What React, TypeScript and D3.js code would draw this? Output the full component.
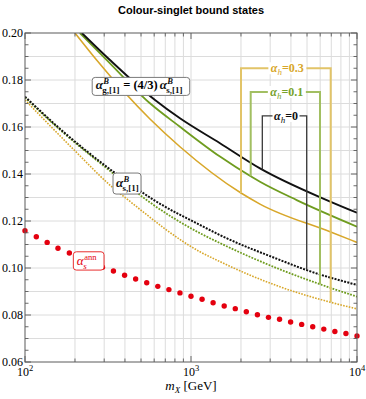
import React, { useEffect, useRef } from 'react';
import * as d3 from 'd3';

const title = 'Colour-singlet bound states';
const yTicks = [0.06, 0.08, 0.1, 0.12, 0.14, 0.16, 0.18, 0.2];
const xTicks = [100, 1000, 10000];
const xTickExponents = ['2', '3', '4'];

// alpha_s^ann (red points)
const annMass = [
  100, 117, 136, 158, 185, 215, 251, 293, 341, 398, 464, 541, 631, 736, 858, 1000, 1166, 1359, 1585, 1848, 2154,
  2512, 2929, 3415, 3981, 4642, 5412, 6310, 7356, 8577, 10000,
];
const annAlpha = [
  0.1159, 0.1133, 0.1109, 0.1084, 0.1064, 0.1043, 0.1022, 0.1003, 0.0987, 0.0969, 0.0953, 0.0937, 0.0922, 0.0908,
  0.0894, 0.088, 0.0867, 0.0852, 0.0838, 0.0827, 0.0814, 0.0801, 0.079, 0.0782, 0.077, 0.076, 0.075, 0.074, 0.073,
  0.0721, 0.0711,
];

// alpha_g,[1]^B = (4/3) alpha_s,[1]^B  (solid)
const solidBlackMass = [220, 325, 607, 858, 1495, 2604, 6569, 10000];
const solidBlack = [0.2, 0.1885, 0.1715, 0.1637, 0.1531, 0.1424, 0.1289, 0.1235];
const solidGreenMass = [214, 311, 566, 858, 1495, 2289, 2604, 4332, 10000];
const solidGreen = [0.2, 0.1885, 0.1701, 0.1601, 0.1474, 0.139, 0.1367, 0.1289, 0.1176];
const solidGoldMass = [200, 270, 566, 858, 2001, 2604, 6943, 10000];
const solidGold = [0.2, 0.1885, 0.1634, 0.1516, 0.1319, 0.1272, 0.1153, 0.1109];

// alpha_s,[1]^B  (dotted)
const dotBlackMass = [100, 162, 340, 621, 1133, 1495, 3437, 4977, 10000];
const dotBlack = [0.1729, 0.1593, 0.141, 0.1282, 0.1183, 0.114, 0.1034, 0.0991, 0.0928];
const dotGreenMass = [100, 162, 340, 541, 1133, 1495, 3437, 5985, 10000];
const dotGreen = [0.1726, 0.1589, 0.1402, 0.1289, 0.1148, 0.1106, 0.0994, 0.0931, 0.0878];
const dotGoldMass = [100, 203, 333, 419, 1133, 1495, 3437, 6943, 10000];
const dotGold = [0.1715, 0.1494, 0.1346, 0.1289, 0.1069, 0.1027, 0.092, 0.0854, 0.0826];

// alpha_h brackets
const bracketLabels = ['0.3', '0.1', '0'];
const bracketTop = [0.185, 0.1749, 0.1647];
const bracketLeftMass = [2001, 2289, 2689];
const bracketRightMass = [6943, 5985, 4977];

const BLACK = '#111111';
const GREEN = '#6f9c1f';
const GOLD = '#d8a72a';
const RED = '#e4000f';
const SERIF = '"Liberation Serif", "DejaVu Serif", serif';

const W = 366;
const H = 399;
const margin = { left: 25, right: 9, top: 33, bottom: 37 };

const valueAt = (ms: number[], vs: number[], m: number) => {
  const lm = Math.log(m);
  for (let i = 0; i < ms.length - 1; i++) {
    const a = Math.log(ms[i]);
    const b = Math.log(ms[i + 1]);
    if (lm >= a && lm <= b) return vs[i] + ((vs[i + 1] - vs[i]) * (lm - a)) / (b - a);
  }
  return vs[vs.length - 1];
};

const draw = (element: SVGSVGElement) => {
  const svg = d3.select(element);
  svg.selectAll('*').remove();

  const x = d3.scaleLog().domain([100, 10000]).range([margin.left, W - margin.right]);
  const y = d3.scaleLinear().domain([0.06, 0.2]).range([H - margin.bottom, margin.top]);
  const [x0, x1] = x.range();
  const [y0, y1] = y.range();

  // title
  svg
    .append('text')
    .attr('x', 191)
    .attr('y', 14)
    .attr('text-anchor', 'middle')
    .attr('font-family', '"Liberation Sans", Arial, sans-serif')
    .attr('font-weight', 'bold')
    .attr('font-size', 11)
    .text(title);

  // grid
  const minorMass: number[] = [];
  [100, 1000].forEach((d) => d3.range(1, 10).forEach((k) => minorMass.push(k * d)));
  minorMass.push(10000);
  const alphaMinor = d3.range(0, 29).map((i) => 0.06 + i * 0.005);
  const grid = svg.append('g').attr('stroke', '#dcdcdc').attr('stroke-width', 1);
  minorMass
    .filter((m) => m > 100 && m < 10000)
    .forEach((m) => grid.append('line').attr('x1', x(m)).attr('x2', x(m)).attr('y1', y1).attr('y2', y0));
  alphaMinor
    .filter((_, i) => i % 2 === 0 && i > 0 && i < 28)
    .forEach((v) => grid.append('line').attr('x1', x0).attr('x2', x1).attr('y1', y(v)).attr('y2', y(v)));

  // curves
  svg
    .append('defs')
    .append('clipPath')
    .attr('id', 'plotClip')
    .append('rect')
    .attr('x', x0)
    .attr('y', y1)
    .attr('width', x1 - x0)
    .attr('height', y0 - y1);
  const line = d3
    .line<[number, number]>()
    .x((d) => x(d[0]))
    .y((d) => y(d[1]))
    .curve(d3.curveMonotoneX);
  const curves = svg.append('g').attr('clip-path', 'url(#plotClip)').attr('fill', 'none');
  const series = [
    { ms: dotGoldMass, vs: dotGold, c: GOLD, w: 1.6, dash: '1.6,1.3' },
    { ms: dotGreenMass, vs: dotGreen, c: GREEN, w: 1.8, dash: '1.8,1.3' },
    { ms: dotBlackMass, vs: dotBlack, c: BLACK, w: 2, dash: '2,1.3' },
    { ms: solidGoldMass, vs: solidGold, c: GOLD, w: 1.6, dash: null },
    { ms: solidGreenMass, vs: solidGreen, c: GREEN, w: 1.8, dash: null },
    { ms: solidBlackMass, vs: solidBlack, c: BLACK, w: 1.9, dash: null },
  ];
  series.forEach((s) => {
    const p = curves
      .append('path')
      .attr('d', line(s.ms.map((m, i) => [m, s.vs[i]] as [number, number])))
      .attr('stroke', s.c)
      .attr('stroke-width', s.w);
    if (s.dash) p.attr('stroke-dasharray', s.dash);
  });

  // red points
  svg
    .append('g')
    .selectAll('circle')
    .data(annMass)
    .join('circle')
    .attr('cx', (m) => x(m))
    .attr('cy', (_, i) => y(annAlpha[i]))
    .attr('r', 2.7)
    .attr('fill', RED);

  // alpha_h brackets
  const bracketStroke = ['#e2c468', '#a2bf62', '#3a3a3a'];
  const bracketText = [GOLD, '#77a22a', BLACK];
  const bracketWidth = [2, 2, 1.3];
  const solids = [
    [solidGoldMass, solidGold],
    [solidGreenMass, solidGreen],
    [solidBlackMass, solidBlack],
  ];
  const dots = [
    [dotGoldMass, dotGold],
    [dotGreenMass, dotGreen],
    [dotBlackMass, dotBlack],
  ];
  bracketLabels.forEach((lab, i) => {
    const xl = x(bracketLeftMass[i]);
    const xr = x(bracketRightMass[i]);
    const yt = y(bracketTop[i]);
    const yl = y(valueAt(solids[i][0], solids[i][1], bracketLeftMass[i]));
    const yr = y(valueAt(dots[i][0], dots[i][1], bracketRightMass[i]));
    svg
      .append('path')
      .attr('d', `M${xl},${yl}V${yt}H${xr}V${yr}`)
      .attr('fill', 'none')
      .attr('stroke', bracketStroke[i])
      .attr('stroke-width', bracketWidth[i]);
    const cx = (xl + xr) / 2 + 1.5;
    const tw = lab.length > 1 ? 38 : 27;
    svg
      .append('rect')
      .attr('x', cx - tw / 2)
      .attr('y', yt - 6)
      .attr('width', tw)
      .attr('height', 12)
      .attr('fill', 'white');
    const t = svg
      .append('text')
      .attr('x', cx)
      .attr('y', yt + 4)
      .attr('text-anchor', 'middle')
      .attr('font-family', SERIF)
      .attr('font-size', 12)
      .attr('fill', bracketText[i]);
    t.append('tspan').attr('font-style', 'italic').attr('font-weight', 'bold').text('α');
    t.append('tspan').attr('font-style', 'italic').attr('font-size', 9).attr('dy', 3).text('h');
    t.append('tspan').attr('font-weight', 'bold').attr('dy', -3).text('=' + lab);
  });

  // label boxes
  const box = (m: number, v: number, w: number, h: number, stroke: string) => {
    const bx = x(m);
    const by = y(v);
    svg
      .append('rect')
      .attr('x', bx)
      .attr('y', by)
      .attr('width', w)
      .attr('height', h)
      .attr('rx', 3)
      .attr('fill', 'white')
      .attr('stroke', stroke)
      .attr('stroke-width', 1);
    return [bx, by];
  };
  // symbol with stacked superscript and subscript
  const sym = (
    px: number,
    py: number,
    sup: string,
    sub: string,
    color: string,
    opts: { size?: number; bold?: boolean; supItalic?: boolean; subItalic?: boolean } = {},
  ) => {
    const size = opts.size ?? 13;
    const bold = opts.bold ?? true;
    const t = svg
      .append('text')
      .attr('font-family', SERIF)
      .attr('fill', color)
      .attr('font-weight', bold ? 'bold' : 'normal');
    t.append('tspan').attr('x', px).attr('y', py).attr('font-size', size).attr('font-style', 'italic').text('α');
    t.append('tspan')
      .attr('x', px + 7.5)
      .attr('y', py - 5.5)
      .attr('font-size', 8.5)
      .attr('font-style', opts.supItalic === false ? 'normal' : 'italic')
      .text(sup);
    t.append('tspan')
      .attr('x', px + 6.5)
      .attr('y', py + 4)
      .attr('font-size', 9)
      .attr('font-style', opts.subItalic ? 'italic' : 'normal')
      .text(sub);
  };

  // alpha_g,[1]^B = (4/3) alpha_s,[1]^B
  const [gx, gy] = box(254, 0.1811, 97.5, 18, '#7a7a7a');
  sym(gx + 3.5, gy + 12, 'B', 'g,[1]', BLACK);
  svg
    .append('text')
    .attr('x', gx + 31)
    .attr('y', gy + 12)
    .attr('font-family', SERIF)
    .attr('font-size', 12.5)
    .attr('font-weight', 'bold')
    .text('= (4/3)');
  sym(gx + 67.5, gy + 12, 'B', 's,[1]', BLACK);

  // alpha_s,[1]^B
  const [sx, sy] = box(339, 0.1404, 28, 21, '#7a7a7a');
  sym(sx + 3, sy + 14, 'B', 's,[1]', BLACK);

  // alpha_s^ann
  const [rx, ry] = box(195.5, 0.1069, 30.7, 18.3, '#e83030');
  sym(rx + 3.5, ry + 13.5, 'ann', 's', RED, { bold: false, supItalic: false, subItalic: true });

  // frame and ticks
  const axisColor = '#5a5a5a';
  svg
    .append('rect')
    .attr('x', x0)
    .attr('y', y1)
    .attr('width', x1 - x0)
    .attr('height', y0 - y1)
    .attr('fill', 'none')
    .attr('stroke', axisColor)
    .attr('stroke-width', 1);
  const ticks = svg.append('g').attr('stroke', axisColor).attr('stroke-width', 0.9);
  alphaMinor.forEach((v, i) => {
    const len = i % 4 === 0 ? 6 : 3.5;
    ticks.append('line').attr('x1', x0).attr('x2', x0 + len).attr('y1', y(v)).attr('y2', y(v));
    ticks.append('line').attr('x1', x1).attr('x2', x1 - len).attr('y1', y(v)).attr('y2', y(v));
  });
  minorMass.forEach((m) => {
    const len = xTicks.includes(m) ? 6 : 3.5;
    ticks.append('line').attr('x1', x(m)).attr('x2', x(m)).attr('y1', y0).attr('y2', y0 - len);
    ticks.append('line').attr('x1', x(m)).attr('x2', x(m)).attr('y1', y1).attr('y2', y1 + len);
  });

  yTicks.forEach((v) => {
    svg
      .append('text')
      .attr('x', x0 - 2)
      .attr('y', y(v) + 3.5)
      .attr('text-anchor', 'end')
      .attr('font-family', SERIF)
      .attr('font-size', 12)
      .text(d3.format('.2f')(v));
  });
  xTicks.forEach((m, i) => {
    const t = svg
      .append('text')
      .attr('x', x(m))
      .attr('y', y0 + 14)
      .attr('text-anchor', 'middle')
      .attr('font-family', SERIF)
      .attr('font-size', 12);
    t.append('tspan').text('10');
    t.append('tspan').attr('font-size', 8.5).attr('dy', -5).text(xTickExponents[i]);
  });

  // x axis title
  const xt = svg
    .append('text')
    .attr('x', (x0 + x1) / 2)
    .attr('y', 390)
    .attr('text-anchor', 'middle')
    .attr('font-family', SERIF)
    .attr('font-size', 13);
  xt.append('tspan').attr('font-style', 'italic').text('m');
  xt.append('tspan').attr('font-style', 'italic').attr('font-size', 9).attr('dy', 3).text('X');
  xt.append('tspan').attr('dy', -3).text('  [GeV]');
};

const App: React.FC = () => {
  const ref = useRef<SVGSVGElement>(null);
  useEffect(() => {
    if (ref.current) draw(ref.current);
  }, []);
  return (
    <svg
      ref={ref}
      width={W}
      height={H}
      style={{ position: 'absolute', left: 0, top: 0, background: 'white' }}
    />
  );
};

export default App;
